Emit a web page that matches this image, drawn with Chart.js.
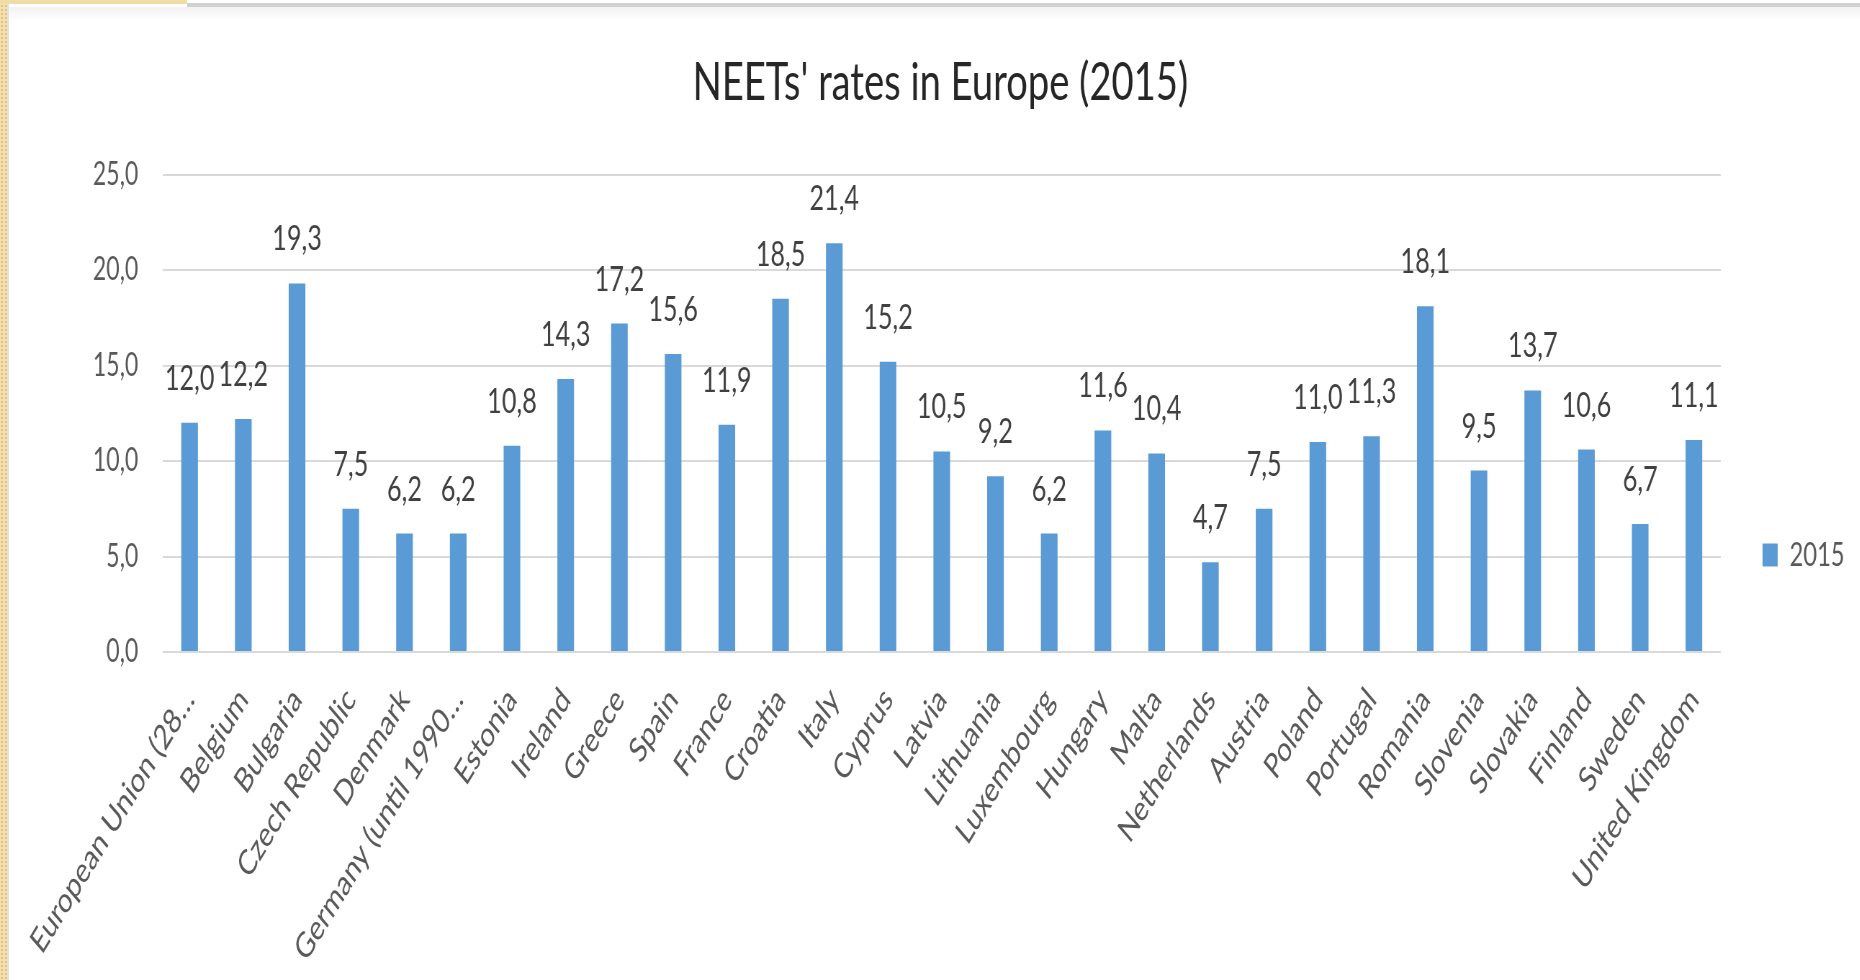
<!DOCTYPE html>
<html>
<head>
<meta charset="utf-8">
<title>NEETs' rates in Europe (2015)</title>
<script src="https://cdn.jsdelivr.net/npm/chart.js@4.4.0/dist/chart.umd.min.js"></script>
<style>
  html, body { margin: 0; padding: 0; width: 1860px; height: 980px; overflow: hidden; background: #fff; }
  /* slide frame */
  .edge-left {
    position: absolute; left: 0; top: 0; width: 7px; height: 980px;
    background-color: #f3e0ae;
    background-image: radial-gradient(#e2c27c 1px, transparent 1.3px);
    background-size: 4px 4px;
    border-right: 2px solid #e2e2e2;
  }
  .edge-block { position: absolute; left: 0; top: 0; width: 187px; height: 4px; background: #f1dca6; }
  .edge-line { position: absolute; left: 187px; right: 0; top: 3px; height: 4px; background: #d0d0d0; }
  .edge-shade { position: absolute; left: 9px; right: 0; top: 7px; height: 14px; background: linear-gradient(#f2f2f2, #fff); }
  #wrap {
    position: absolute; left: 0; top: 0; width: 2584px; height: 1110px;
    transform: scaleX(0.72); transform-origin: 0 0;
  }
</style>
</head>
<body>
<div class="edge-left"></div>
<div class="edge-block"></div>
<div class="edge-line"></div>
<div class="edge-shade"></div>
<div id="wrap"><canvas id="neetChart" width="2584" height="1110"></canvas></div>
<script>
const countries = [
  "European Union (28…", "Belgium", "Bulgaria", "Czech Republic", "Denmark",
  "Germany (until 1990…", "Estonia", "Ireland", "Greece", "Spain", "France",
  "Croatia", "Italy", "Cyprus", "Latvia", "Lithuania", "Luxembourg", "Hungary",
  "Malta", "Netherlands", "Austria", "Poland", "Portugal", "Romania", "Slovenia",
  "Slovakia", "Finland", "Sweden", "United Kingdom"
];
const neetRates = [
  12.0, 12.2, 19.3, 7.5, 6.2,
  6.2, 10.8, 14.3, 17.2, 15.6, 11.9,
  18.5, 21.4, 15.2, 10.5, 9.2, 6.2, 11.6,
  10.4, 4.7, 7.5, 11.0, 11.3, 18.1, 9.5,
  13.7, 10.6, 6.7, 11.1
];
const seriesName = "2015";
const yTicks = [0, 5, 10, 15, 20, 25];

const textGrey = "#595959";
const barBlue = "#5b9bd5";

// decimal comma, one digit
const fmt = (v) => Number(v).toFixed(1).replace(".", ",");

// value printed above every bar
const valueLabels = {
  id: "valueLabels",
  afterDatasetsDraw(chart) {
    const { ctx } = chart;
    const meta = chart.getDatasetMeta(0);
    ctx.save();
    ctx.font = "35px Lato";
    ctx.fillStyle = "#404040";
    ctx.textAlign = "center";
    ctx.textBaseline = "alphabetic";
    meta.data.forEach((bar, i) => {
      ctx.fillText(fmt(neetRates[i]), bar.x, bar.y - 33);
    });
    ctx.restore();
  }
};

const ctx = document.getElementById("neetChart");

const neetChart = new Chart(ctx, {
  type: "bar",
  data: {
    labels: countries,
    datasets: [
      {
        label: seriesName,
        data: neetRates,
        backgroundColor: barBlue,
        categoryPercentage: 1,
        barPercentage: 0.31,
      },
    ],
  },
  options: {
    responsive: false,
    animation: false,
    devicePixelRatio: 1,
    layout: { padding: { left: 40, right: 12, top: 0, bottom: 0 } },
    plugins: {
      title: {
        display: true,
        text: "NEETs' rates in Europe (2015)",
        color: "#262626",
        font: { family: "Lato", size: 53, weight: "normal" },
        padding: { top: 51, bottom: 60 },
      },
      legend: {
        position: "right",
        labels: {
          padding: 58,
          boxWidth: 21,
          boxHeight: 23,
          color: textGrey,
          font: { family: "Lato", size: 33 },
        },
      },
      tooltip: { enabled: false },
    },
    scales: {
      x: {
        grid: { display: false, drawTicks: false },
        border: { display: false },
        ticks: {
          autoSkip: false,
          minRotation: 50,
          maxRotation: 50,
          padding: 28,
          color: textGrey,
          font: { family: "Lato", size: 35 },
        },
        afterFit: (scale) => { scale.height = 458; },
      },
      y: {
        min: 0,
        max: 25,
        grid: { color: "#d9d9d9", lineWidth: 2, drawTicks: false },
        border: { display: false },
        ticks: {
          padding: 34,
          color: textGrey,
          font: { family: "Lato", size: 32 },
          callback: (v) => fmt(v),
        },
        afterBuildTicks: (axis) => { axis.ticks = yTicks.map((v) => ({ value: v })); },
        afterFit: (scale) => { scale.width = 186; },
      },
    },
  },
  plugins: [valueLabels],
});
</script>
</body>
</html>
